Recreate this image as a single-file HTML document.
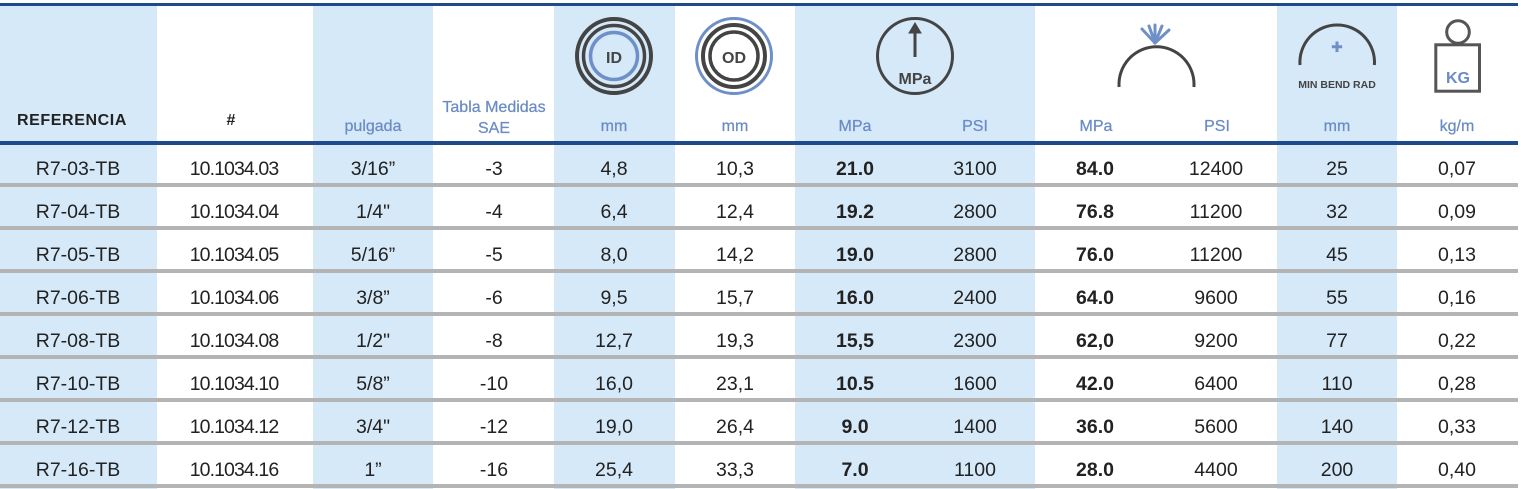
<!DOCTYPE html>
<html>
<head>
<meta charset="utf-8">
<style>
html,body{margin:0;padding:0;background:#fff;}
body{width:1521px;height:489px;overflow:hidden;}
svg{display:block;}
text{font-family:"Liberation Sans",sans-serif;}
.d{font-size:19.5px;fill:#222;text-anchor:middle;}
.b{font-weight:bold;}
.n{letter-spacing:-0.9px;}
.h{font-size:16px;fill:#6a8bc5;text-anchor:middle;stroke:#6a8bc5;stroke-width:0.25px;}
</style>
</head>
<body>
<svg width="1521" height="489" viewBox="0 0 1521 489" xmlns="http://www.w3.org/2000/svg">
<!-- column backgrounds -->
<g fill="#d6e9f9">
<rect x="0" y="5" width="157" height="484"/>
<rect x="313" y="5" width="120" height="484"/>
<rect x="554" y="5" width="121" height="484"/>
<rect x="795" y="5" width="240" height="484"/>
<rect x="1277" y="5" width="120" height="484"/>
</g>
<!-- top & header lines -->
<rect x="0" y="3" width="1518" height="3" fill="#1f4a8c"/>
<rect x="0" y="141" width="1518" height="4" fill="#1f4a8c"/>
<!-- row separators -->
<g fill="#b4b4b4">
<rect x="0" y="183" width="1518" height="4"/>
<rect x="0" y="226" width="1518" height="4"/>
<rect x="0" y="269" width="1518" height="4"/>
<rect x="0" y="312" width="1518" height="4"/>
<rect x="0" y="355" width="1518" height="4"/>
<rect x="0" y="398" width="1518" height="4"/>
<rect x="0" y="441" width="1518" height="4"/>
<rect x="0" y="484" width="1518" height="4"/>
</g>

<!-- Icons -->
<g fill="none">
<!-- ID -->
<circle cx="614" cy="56" r="37" stroke="#444" stroke-width="4"/>
<circle cx="614" cy="56" r="30.5" stroke="#444" stroke-width="3.5"/>
<circle cx="614" cy="56" r="23.5" stroke="#6f8fc8" stroke-width="3.5"/>
<!-- OD -->
<circle cx="734" cy="56" r="37.5" stroke="#6f8fc8" stroke-width="3"/>
<circle cx="734" cy="56" r="31" stroke="#444" stroke-width="4"/>
<circle cx="734" cy="56" r="24" stroke="#444" stroke-width="3.5"/>
<!-- MPa -->
<circle cx="915" cy="56" r="37.5" stroke="#444" stroke-width="3"/>
<path d="M915,57 L915,26" stroke="#444" stroke-width="3"/>
<path d="M909,33 L915,23 L921,33 Z" fill="#444" stroke="#444" stroke-width="1"/>
<!-- burst -->
<path d="M1119.1,87 A37.5,37.5 0 1 1 1193.9,87" stroke="#444" stroke-width="3"/>
<g stroke="#6f8fc8" stroke-width="3" stroke-linecap="round">
<path d="M1155,43 L1142,29"/>
<path d="M1155,43 L1149,26"/>
<path d="M1155,43 L1155,25"/>
<path d="M1155,43 L1162,26"/>
<path d="M1155,43 L1169,30"/>
</g>
<!-- min bend -->
<path d="M1300,65 A37.3,37.3 0 1 1 1374.4,65" stroke="#444" stroke-width="3"/>
<path d="M1337,41.5 L1337,52 M1331.8,46.7 L1342.2,46.7" stroke="#6f8fc8" stroke-width="3"/>
<!-- KG -->
<circle cx="1458" cy="32" r="11.3" stroke="#555" stroke-width="3"/>
<rect x="1435.8" y="44.8" width="43.7" height="46.4" stroke="#555" stroke-width="3"/>
</g>
<text x="614" y="63" font-size="16" font-weight="bold" fill="#444" text-anchor="middle">ID</text>
<text x="734" y="63" font-size="16" font-weight="bold" fill="#444" text-anchor="middle">OD</text>
<text x="915" y="84" font-size="16" font-weight="bold" fill="#444" text-anchor="middle">MPa</text>
<text x="1337" y="88" font-size="10.5" font-weight="bold" fill="#444" text-anchor="middle">MIN BEND RAD</text>
<text x="1458" y="83" font-size="16" font-weight="bold" fill="#6a8bc5" text-anchor="middle">KG</text>

<!-- header labels -->
<text x="72" y="125" font-size="16" font-weight="bold" fill="#222" text-anchor="middle" letter-spacing="0.6">REFERENCIA</text>
<text x="231" y="125" font-size="16" font-weight="bold" fill="#222" text-anchor="middle">#</text>
<text class="h" x="373" y="131">pulgada</text>
<text class="h" x="494" y="112">Tabla Medidas</text>
<text class="h" x="494" y="133">SAE</text>
<text class="h" x="614" y="131">mm</text>
<text class="h" x="735" y="131">mm</text>
<text class="h" x="855" y="131">MPa</text>
<text class="h" x="975" y="131">PSI</text>
<text class="h" x="1096" y="131">MPa</text>
<text class="h" x="1217" y="131">PSI</text>
<text class="h" x="1337" y="131">mm</text>
<text class="h" x="1457" y="131">kg/m</text>

<!-- data rows -->
<g class="d">
<text x="78" y="175">R7-03-TB</text><text class="n" x="234" y="175">10.1034.03</text><text x="373" y="175">3/16”</text><text x="494" y="175">-3</text><text x="614" y="175">4,8</text><text x="735" y="175">10,3</text><text x="855" y="175" class="b">21.0</text><text x="975" y="175">3100</text><text x="1095" y="175" class="b">84.0</text><text x="1216" y="175">12400</text><text x="1337" y="175">25</text><text x="1457" y="175">0,07</text>

<text x="78" y="218">R7-04-TB</text><text class="n" x="234" y="218">10.1034.04</text><text x="373" y="218">1/4"</text><text x="494" y="218">-4</text><text x="614" y="218">6,4</text><text x="735" y="218">12,4</text><text x="855" y="218" class="b">19.2</text><text x="975" y="218">2800</text><text x="1095" y="218" class="b">76.8</text><text x="1216" y="218">11200</text><text x="1337" y="218">32</text><text x="1457" y="218">0,09</text>

<text x="78" y="261">R7-05-TB</text><text class="n" x="234" y="261">10.1034.05</text><text x="373" y="261">5/16”</text><text x="494" y="261">-5</text><text x="614" y="261">8,0</text><text x="735" y="261">14,2</text><text x="855" y="261" class="b">19.0</text><text x="975" y="261">2800</text><text x="1095" y="261" class="b">76.0</text><text x="1216" y="261">11200</text><text x="1337" y="261">45</text><text x="1457" y="261">0,13</text>

<text x="78" y="304">R7-06-TB</text><text class="n" x="234" y="304">10.1034.06</text><text x="373" y="304">3/8”</text><text x="494" y="304">-6</text><text x="614" y="304">9,5</text><text x="735" y="304">15,7</text><text x="855" y="304" class="b">16.0</text><text x="975" y="304">2400</text><text x="1095" y="304" class="b">64.0</text><text x="1216" y="304">9600</text><text x="1337" y="304">55</text><text x="1457" y="304">0,16</text>

<text x="78" y="347">R7-08-TB</text><text class="n" x="234" y="347">10.1034.08</text><text x="373" y="347">1/2"</text><text x="494" y="347">-8</text><text x="614" y="347">12,7</text><text x="735" y="347">19,3</text><text x="855" y="347" class="b">15,5</text><text x="975" y="347">2300</text><text x="1095" y="347" class="b">62,0</text><text x="1216" y="347">9200</text><text x="1337" y="347">77</text><text x="1457" y="347">0,22</text>

<text x="78" y="390">R7-10-TB</text><text class="n" x="234" y="390">10.1034.10</text><text x="373" y="390">5/8”</text><text x="494" y="390">-10</text><text x="614" y="390">16,0</text><text x="735" y="390">23,1</text><text x="855" y="390" class="b">10.5</text><text x="975" y="390">1600</text><text x="1095" y="390" class="b">42.0</text><text x="1216" y="390">6400</text><text x="1337" y="390">110</text><text x="1457" y="390">0,28</text>

<text x="78" y="433">R7-12-TB</text><text class="n" x="234" y="433">10.1034.12</text><text x="373" y="433">3/4"</text><text x="494" y="433">-12</text><text x="614" y="433">19,0</text><text x="735" y="433">26,4</text><text x="855" y="433" class="b">9.0</text><text x="975" y="433">1400</text><text x="1095" y="433" class="b">36.0</text><text x="1216" y="433">5600</text><text x="1337" y="433">140</text><text x="1457" y="433">0,33</text>

<text x="78" y="476">R7-16-TB</text><text class="n" x="234" y="476">10.1034.16</text><text x="373" y="476">1”</text><text x="494" y="476">-16</text><text x="614" y="476">25,4</text><text x="735" y="476">33,3</text><text x="855" y="476" class="b">7.0</text><text x="975" y="476">1100</text><text x="1095" y="476" class="b">28.0</text><text x="1216" y="476">4400</text><text x="1337" y="476">200</text><text x="1457" y="476">0,40</text>
</g>
</svg>
</body>
</html>
